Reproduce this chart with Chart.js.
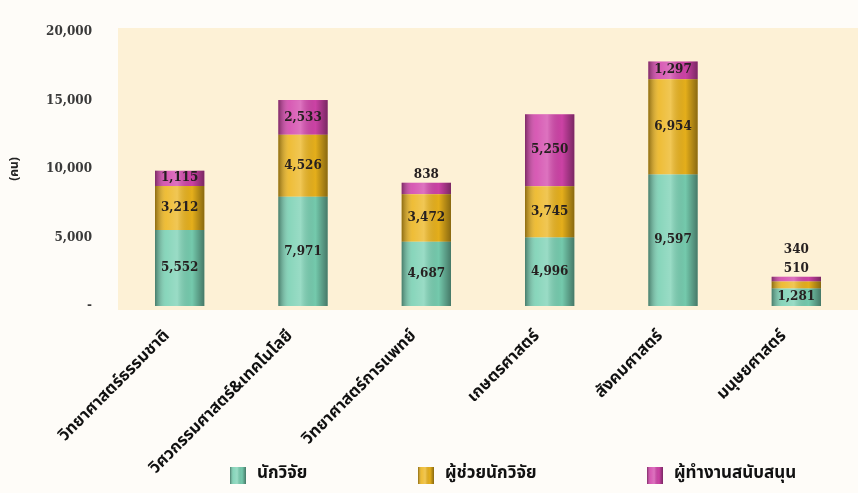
<!DOCTYPE html>
<html>
<head>
<meta charset="utf-8">
<script src="https://cdn.jsdelivr.net/npm/chart.js@4.4.0/dist/chart.umd.min.js"></script>
<style>
html,body{margin:0;padding:0;background:#fefcf8;}
#wrap{width:858px;height:493px;position:relative;}
</style>
</head>
<body>
<div id="wrap"><canvas id="c" width="858" height="493"></canvas></div>
<script>
const categories = ["วิทยาศาสตร์ธรรมชาติ","วิศวกรรมศาสตร์&เทคโนโลยี","วิทยาศาสตร์การแพทย์","เกษตรศาสตร์","สังคมศาสตร์","มนุษยศาสตร์"];
const seriesNames = ["นักวิจัย","ผู้ช่วยนักวิจัย","ผู้ทำงานสนับสนุน"];
const researchers = [5552, 7971, 4687, 4996, 9597, 1281];
const assistants = [3212, 4526, 3472, 3745, 6954, 510];
const support = [1115, 2533, 838, 5250, 1297, 340];
const yTicks = [0, 5000, 10000, 15000, 20000];

const colors = ["#78d0b2", "#ecb41c", "#d244aa"];
const thaiFont = "'Noto Sans Thai','Noto Sans Thai UI','Loma','Garuda','Tlwg Typo','Noto Sans',sans-serif";
const numFont = "'DejaVu Serif','Liberation Serif',serif";

function shade(ctx, l, r, top, bot){
  const g = ctx.createLinearGradient(l, 0, r, 0);
  g.addColorStop(0, 'rgba(0,0,0,0.40)');
  g.addColorStop(0.22, 'rgba(255,255,255,0.12)');
  g.addColorStop(0.45, 'rgba(255,255,255,0.25)');
  g.addColorStop(0.75, 'rgba(0,0,0,0.03)');
  g.addColorStop(1, 'rgba(0,0,0,0.42)');
  ctx.fillStyle = g;
  ctx.fillRect(l, top, r - l, bot - top);
}

const bgPlugin = {
  id:'bg',
  beforeDraw(chart){
    const {ctx, chartArea:a} = chart;
    ctx.save();
    ctx.fillStyle = '#fdf1d6';
    ctx.fillRect(a.left, a.top - 4, a.right - a.left, a.bottom - a.top + 8);
    ctx.restore();
  }
};

const shadePlugin = {
  id:'shade',
  afterDatasetsDraw(chart){
    const ctx = chart.ctx;
    chart.data.datasets.forEach((ds, di) => {
      const meta = chart.getDatasetMeta(di);
      meta.data.forEach(el => {
        const l = el.x - el.width/2, r = el.x + el.width/2;
        ctx.save();
        shade(ctx, l, r, Math.min(el.y, el.base), Math.max(el.y, el.base));
        ctx.restore();
      });
    });
  }
};

const labelPlugin = {
  id:'vals',
  afterDatasetsDraw(chart){
    const ctx = chart.ctx;
    ctx.save();
    ctx.font = "bold 12px " + numFont;
    ctx.textAlign = 'center';
    ctx.textBaseline = 'middle';
    ctx.fillStyle = '#262020';
    const n = chart.data.labels.length;
    for (let i = 0; i < n; i++) {
      let topY = Infinity;
      chart.data.datasets.forEach((ds, di) => {
        const el = chart.getDatasetMeta(di).data[i];
        topY = Math.min(topY, el.y, el.base);
      });
      let above = 0;
      chart.data.datasets.forEach((ds, di) => {
        const el = chart.getDatasetMeta(di).data[i];
        const h = Math.abs(el.base - el.y);
        const txt = ds.data[i].toLocaleString('en-US');
        if (h >= 13) {
          ctx.fillText(txt, el.x, (el.y + el.base)/2);
        } else {
          ctx.fillText(txt, el.x, topY - 8 - above*19);
          above++;
        }
      });
    }
    ctx.restore();
  }
};

// legend drawn from dataset labels/colours at spread-out positions
const legendX = [230, 418, 647];
const legendPlugin = {
  id:'spreadLegend',
  afterDraw(chart){
    const ctx = chart.ctx;
    const y = 475;
    ctx.save();
    ctx.font = "bold 17px " + thaiFont;
    ctx.textBaseline = 'middle';
    ctx.textAlign = 'left';
    chart.data.datasets.forEach((ds, i) => {
      const x = legendX[i];
      ctx.fillStyle = ds.backgroundColor;
      ctx.fillRect(x, y - 8, 16, 17);
      shade(ctx, x, x + 16, y - 8, y + 9);
      ctx.fillStyle = '#111';
      ctx.fillText(ds.label, x + 27, y);
    });
    ctx.restore();
  }
};

new Chart(document.getElementById('c'), {
  type:'bar',
  data:{
    labels: categories,
    datasets:[
      {label: seriesNames[0], data: researchers, backgroundColor: colors[0]},
      {label: seriesNames[1], data: assistants, backgroundColor: colors[1]},
      {label: seriesNames[2], data: support, backgroundColor: colors[2]}
    ]
  },
  options:{
    responsive:false,
    animation:false,
    devicePixelRatio:1,
    layout:{padding:{top:32, right:0, left:8, bottom:19}},
    datasets:{bar:{barPercentage:0.4, categoryPercentage:1.0, borderWidth:0}},
    scales:{
      x:{
        stacked:true,
        grid:{display:false},
        border:{display:false},
        ticks:{
          color:'#111',
          font:{family:thaiFont, size:16.5, weight:'bold'},
          minRotation:45, maxRotation:45, padding:13, labelOffset:-12
        },
        afterFit(s){ s.height = 168; }
      },
      y:{
        stacked:true,
        min:0, max:20000,
        grid:{display:false},
        border:{display:false},
        afterBuildTicks(s){ s.ticks = yTicks.map(v => ({value:v})); },
        ticks:{
          color:'#3a3a3a',
          padding:18,
          font:{family:numFont, size:12, weight:'bold'},
          callback(v){ return v === 0 ? '-' : v.toLocaleString('en-US'); }
        },
        title:{display:true, text:'(คน)', color:'#222', font:{family:thaiFont, size:12, weight:'bold'}, padding:{top:0,bottom:4}},
        afterFit(s){ s.width = 110; }
      }
    },
    plugins:{
      legend:{display:false},
      tooltip:{enabled:false}
    }
  },
  plugins:[bgPlugin, shadePlugin, labelPlugin, legendPlugin]
});
</script>
</body>
</html>
